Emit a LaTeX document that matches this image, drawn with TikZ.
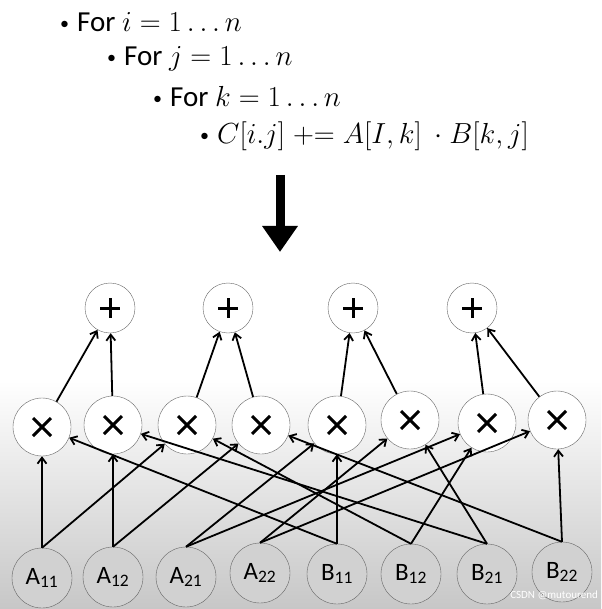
\RequirePackage{fix-cm}
\documentclass[tikz,border=0pt]{standalone}
\usepackage{fontspec}
\setmainfont{Carlito}
\usetikzlibrary{arrows.meta}
\newcommand{\mybul}{{\fontsize{18}{18}\selectfont\raisebox{2pt}{\textbullet}}\hspace{8pt}}
\begin{document}
\begin{tikzpicture}[x=1pt,y=-1pt,
 op/.style={circle,draw=black!60,fill=white,minimum size=50pt,inner sep=0pt},
 mul/.style={circle,draw=black!60,fill=white,minimum size=58pt,inner sep=0pt,
   path picture={\draw[black,line width=3pt] ([shift={(-9pt,-9pt)}]path picture bounding box.center) -- ([shift={(9pt,9pt)}]path picture bounding box.center);
                 \draw[black,line width=3pt] ([shift={(-9pt,9pt)}]path picture bounding box.center) -- ([shift={(9pt,-9pt)}]path picture bounding box.center);}},
 inp/.style={circle,draw=black!60,fill=black!18,minimum size=60pt,inner sep=0pt,font=\fontsize{25}{25}\selectfont},
 e/.style={-{Straight Barb[length=6pt,width=9pt]},line width=1.8pt},
 t/.style={anchor=west,font=\fontsize{29}{32}\selectfont,inner sep=0pt}]
\useasboundingbox (0,0) rectangle (601,609);
\shade[top color=white,bottom color=black!22] (0,380) rectangle (601,609);
\node[t] (l1) at (60,22) {\mybul For $i=1\ldots n$};
\node[t] (l2) at (107,59) {\mybul For $j=1\ldots n$};
\node[t] (l3) at (153,97) {\mybul For $k=1\ldots n$};
\node[t] (l4) at (200,136) {\mybul $C[i.j] \mathrel{+}= A[I,k]\ \cdot B[k,j]$};
\coordinate (as) at (280,175);
\coordinate (ae) at (280,252);
\draw[line width=9pt,-{Triangle[length=26pt,width=34pt]}] (as) -- (ae);
\foreach \n/\x in {1/110,2/228,3/353,4/472}{\node[op] (p\n) at (\x,308) {};
  \draw[line width=3pt] (\x-10,308) -- (\x+10,308) (\x,298) -- (\x,318);}
\foreach \n/\x/\y in {1/42/427,2/113/425,3/187/425,4/261/425,5/337/425,6/410/420,7/487/423,8/557/420}{\node[mul] (m\n) at (\x,\y) {};}
\foreach \n/\x/\y/\l in {1/42/578/A_{11},2/113/577/A_{12},3/186/577/A_{21},4/260/573/A_{22},5/337/574/B_{11},6/411/574/B_{12},7/487/574/B_{21},8/562/572/B_{22}}{\node[inp] (i\n) at (\x,\y) {$\mathrm{\l}$};}
\foreach \a/\b in {1/1,2/1,3/2,4/2,5/3,6/3,7/4,8/4}{\draw[e] (m\a) -- (p\b);}
\foreach \a/\b in {1/1,1/3,2/2,2/4,3/5,3/7,4/6,4/8,5/1,5/5,6/3,6/7,7/2,7/6,8/4,8/8}{\draw[e] (i\a.north) -- (m\b);}
\node[font=\fontsize{11}{11}\selectfont,text=white,anchor=east,inner sep=0pt] (wm) at (598,595) {CSDN @mutourend};
\end{tikzpicture}
\end{document}
